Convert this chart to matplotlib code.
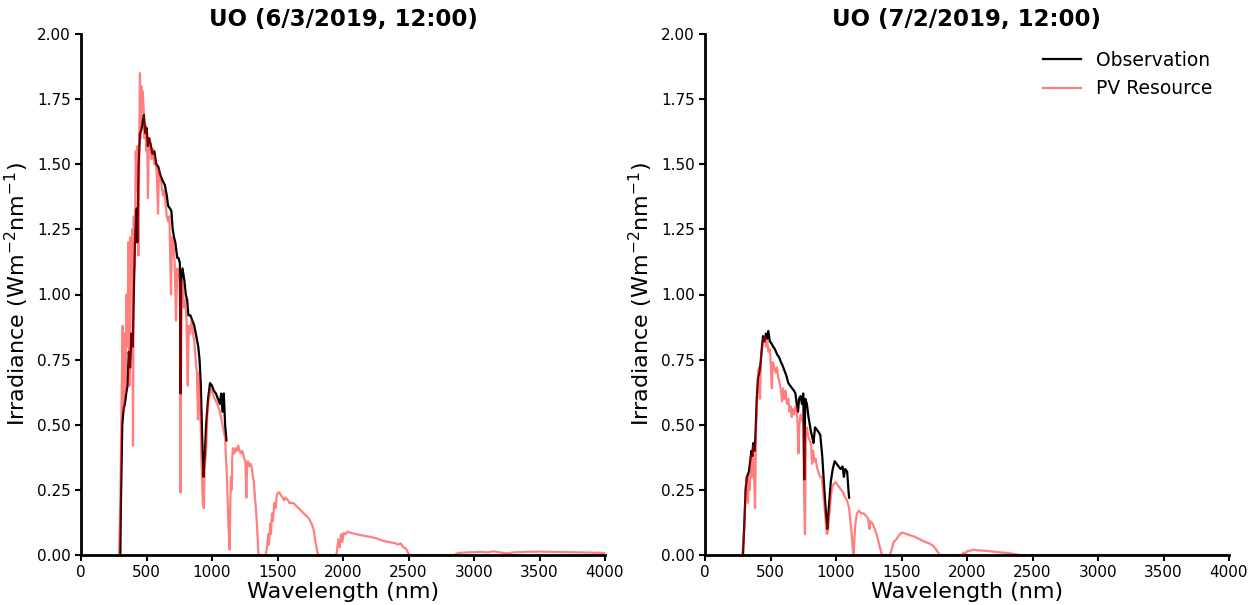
import numpy as np
import matplotlib
matplotlib.use("Agg")
import matplotlib.pyplot as plt

# left panel: 6/3/2019
obs1_wl = [300, 305, 315, 325, 335, 345, 355, 365, 375, 385, 395, 405, 412, 420, 425, 430,
           440, 450, 460, 470, 480, 490, 500, 510, 520, 530, 545, 560, 575, 590, 605, 620,
           640, 655, 665, 680, 690, 700, 710, 720, 735, 745, 755, 760, 765, 775, 790, 800,
           810, 820, 835, 850, 865, 880, 895, 905, 915, 925, 935, 945, 955, 970, 985, 1000,
           1015, 1030, 1045, 1060, 1070, 1080, 1090, 1100, 1110]
obs1_val = [0.0, 0.2, 0.5, 0.56, 0.58, 0.62, 0.65, 0.78, 0.72, 0.85, 0.8, 1.05, 1.2, 1.3, 1.33, 1.2,
            1.5, 1.62, 1.63, 1.66, 1.69, 1.62, 1.64, 1.57, 1.6, 1.58, 1.54, 1.55, 1.5, 1.49, 1.46, 1.44,
            1.42, 1.38, 1.34, 1.33, 1.32, 1.25, 1.22, 1.2, 1.14, 1.14, 1.12, 0.62, 1.05, 1.1, 1.05, 1.0,
            0.98, 0.92, 0.92, 0.9, 0.88, 0.84, 0.8, 0.75, 0.65, 0.45, 0.3, 0.38, 0.5, 0.6, 0.66, 0.65,
            0.63, 0.62, 0.6, 0.58, 0.62, 0.55, 0.62, 0.5, 0.44]

pv1_wl = [290, 300, 310, 318, 325, 332, 340, 348, 355, 362, 370, 378, 385, 392, 397, 403,
          410, 418, 425, 432, 438, 445, 450, 455, 460, 465, 470, 478, 485, 492, 500, 505,
          511, 518, 528, 540, 550, 560, 570, 580, 588, 595, 605, 615, 625, 635, 645, 655,
          665, 675, 687, 695, 705, 715, 725, 735, 745, 755, 760, 766, 775, 785, 795, 805,
          815, 822, 832, 845, 855, 865, 875, 885, 893, 900, 910, 920, 930, 938, 945, 955,
          965, 975, 990, 1005, 1020, 1040, 1060, 1080, 1100, 1114, 1125, 1135, 1140, 1145, 1150, 1155,
          1160, 1170, 1180, 1190, 1200, 1210, 1220, 1230, 1237, 1245, 1255, 1262, 1268, 1275, 1285, 1295,
          1305, 1312, 1320, 1328, 1335, 1345, 1355, 1410, 1420, 1430, 1435, 1445, 1450, 1458, 1465, 1475,
          1485, 1495, 1505, 1515, 1525, 1540, 1550, 1560, 1580, 1590, 1600, 1620, 1640, 1660, 1680, 1700,
          1720, 1740, 1760, 1775, 1790, 1805, 1815, 1950, 1965, 1975, 1985, 1995, 2005, 2020, 2035, 2060,
          2100, 2150, 2200, 2250, 2300, 2350, 2400, 2420, 2440, 2460, 2480, 2495, 2510, 2850, 2880, 2950,
          3050, 3100, 3150, 3200, 3250, 3300, 3400, 3500, 3600, 3700, 3800, 3900, 4000]
pv1_val = [0.0, 0.2, 0.6, 0.88, 0.55, 0.85, 0.62, 1.0, 0.8, 1.2, 0.65, 1.22, 1.15, 1.25, 0.42, 1.3,
           1.1, 1.55, 1.4, 1.57, 1.15, 1.6, 1.85, 1.6, 1.8, 1.7, 1.78, 1.72, 1.6, 1.65, 1.55, 1.62,
           1.37, 1.6, 1.58, 1.52, 1.56, 1.5, 1.52, 1.45, 1.31, 1.48, 1.44, 1.42, 1.38, 1.4, 1.35, 1.3,
           1.28, 1.3, 1.0, 1.22, 1.2, 1.12, 0.9, 1.1, 1.08, 1.05, 0.24, 1.0, 1.05, 0.95, 0.98, 0.9,
           0.65, 0.88, 0.85, 0.9, 0.85, 0.82, 0.75, 0.7, 0.52, 0.7, 0.58, 0.35, 0.2, 0.18, 0.35, 0.4,
           0.55, 0.6, 0.64, 0.62, 0.6, 0.58, 0.55, 0.5, 0.45, 0.3, 0.12, 0.02, 0.2, 0.3, 0.25, 0.38,
           0.41, 0.39, 0.41, 0.4, 0.42, 0.4, 0.39, 0.4, 0.39, 0.37, 0.36, 0.22, 0.35, 0.36, 0.34, 0.35,
           0.33, 0.3, 0.28, 0.22, 0.18, 0.1, 0.0, 0.0, 0.03, 0.08, 0.04, 0.12, 0.08, 0.16, 0.13, 0.2,
           0.18, 0.23, 0.24, 0.24, 0.23, 0.22, 0.21, 0.22, 0.21, 0.2, 0.2, 0.2, 0.19, 0.18, 0.17, 0.16,
           0.15, 0.14, 0.12, 0.1, 0.05, 0.01, 0.0, 0.0, 0.06, 0.03, 0.08, 0.05, 0.085, 0.08, 0.09, 0.085,
           0.08, 0.075, 0.07, 0.065, 0.055, 0.05, 0.045, 0.04, 0.045, 0.03, 0.025, 0.01, 0.0, 0.0, 0.008, 0.01,
           0.012, 0.01, 0.014, 0.01, 0.006, 0.01, 0.012, 0.013, 0.012, 0.011, 0.01, 0.009, 0.008]

# right panel: 7/2/2019
obs2_wl = [290, 300, 310, 320, 335, 345, 355, 362, 370, 380, 388, 395, 405, 415, 425, 435,
           443, 455, 465, 475, 483, 495, 510, 520, 534, 550, 565, 580, 590, 605, 620, 636,
           650, 665, 680, 690, 700, 710, 718, 730, 740, 750, 758, 765, 778, 790, 800, 810,
           820, 828, 840, 855, 870, 880, 895, 905, 915, 925, 934, 945, 960, 975, 990, 1005,
           1020, 1035, 1050, 1060, 1070, 1085, 1095, 1100]
obs2_val = [0.0, 0.12, 0.25, 0.3, 0.32, 0.36, 0.4, 0.38, 0.43, 0.4, 0.5, 0.6, 0.68, 0.7, 0.74, 0.8,
            0.84, 0.82, 0.85, 0.83, 0.86, 0.82, 0.81, 0.8, 0.79, 0.77, 0.76, 0.74, 0.73, 0.71, 0.69, 0.66,
            0.65, 0.64, 0.63, 0.62, 0.58, 0.55, 0.6, 0.61, 0.58, 0.62, 0.29, 0.6, 0.58, 0.53, 0.5, 0.47,
            0.45, 0.43, 0.49, 0.48, 0.47, 0.46, 0.38, 0.3, 0.22, 0.15, 0.1, 0.18, 0.28, 0.33, 0.36, 0.35,
            0.34, 0.33, 0.34, 0.3, 0.33, 0.32, 0.25, 0.22]

pv2_wl = [285, 300, 310, 318, 328, 335, 342, 350, 358, 365, 372, 382, 390, 398, 407, 415,
          420, 428, 438, 448, 458, 466, 475, 485, 496, 503, 510, 518, 528, 540, 548, 560,
          570, 580, 588, 596, 605, 615, 625, 636, 645, 655, 662, 672, 680, 690, 700, 707,
          713, 720, 730, 740, 750, 758, 763, 770, 778, 790, 800, 810, 818, 825, 835, 845,
          853, 865, 878, 891, 900, 910, 920, 930, 938, 948, 960, 970, 980, 995, 1010, 1025,
          1040, 1055, 1070, 1084, 1100, 1112, 1120, 1128, 1135, 1140, 1148, 1160, 1175, 1190, 1211, 1230,
          1245, 1255, 1262, 1280, 1295, 1310, 1325, 1340, 1350, 1410, 1425, 1440, 1460, 1480, 1500, 1514,
          1540, 1570, 1600, 1641, 1680, 1710, 1743, 1765, 1785, 1795, 1960, 1975, 1990, 2000, 2020, 2046,
          2080, 2120, 2160, 2200, 2250, 2300, 2350, 2400, 4000]
pv2_val = [0.0, 0.1, 0.25, 0.3, 0.2, 0.3, 0.25, 0.38, 0.3, 0.42, 0.35, 0.18, 0.5, 0.6, 0.71, 0.72,
           0.6, 0.76, 0.8, 0.83, 0.84, 0.8, 0.82, 0.78, 0.79, 0.72, 0.64, 0.74, 0.72, 0.7, 0.72, 0.68,
           0.66, 0.63, 0.59, 0.64, 0.6, 0.63, 0.58, 0.6, 0.55, 0.57, 0.53, 0.56, 0.54, 0.57, 0.57, 0.5,
           0.39, 0.5, 0.54, 0.52, 0.5, 0.2, 0.08, 0.45, 0.49, 0.45, 0.44, 0.42, 0.35, 0.4, 0.36, 0.37,
           0.34, 0.32, 0.3, 0.3, 0.25, 0.2, 0.14, 0.08, 0.09, 0.15, 0.22, 0.26, 0.27, 0.28, 0.27, 0.26,
           0.25, 0.24, 0.22, 0.21, 0.18, 0.12, 0.08, 0.02, 0.0, 0.06, 0.12, 0.16, 0.17, 0.16, 0.16, 0.15,
           0.14, 0.1, 0.13, 0.12, 0.1, 0.08, 0.05, 0.02, 0.0, 0.0, 0.02, 0.05, 0.06, 0.075, 0.085, 0.085,
           0.08, 0.075, 0.07, 0.06, 0.05, 0.045, 0.035, 0.02, 0.005, 0.0, 0.0, 0.01, 0.005, 0.015, 0.016, 0.02,
           0.018, 0.017, 0.015, 0.013, 0.01, 0.008, 0.005, 0.0, 0.0]

titles = ["UO (6/3/2019, 12:00)", "UO (7/2/2019, 12:00)"]
panels = [(obs1_wl, obs1_val, pv1_wl, pv1_val), (obs2_wl, obs2_val, pv2_wl, pv2_val)]

fig = plt.figure(figsize=(12.56, 6.05), dpi=100)
lefts = [81 / 1256, 705 / 1256]

for i, (ow, ov, pw, pv) in enumerate(panels):
    ax = fig.add_axes([lefts[i], 50 / 605, 524 / 1256, 521 / 605])
    ax.plot(ow, ov, color='black', lw=1.6, label='Observation')
    ax.plot(pw, pv, color='red', alpha=0.5, lw=1.6, label='PV Resource')
    ax.set_xlim(0, 4000)
    ax.set_ylim(0, 2.0)
    ax.set_xticks(np.arange(0, 4001, 500))
    ax.set_yticks(np.arange(0, 2.01, 0.25))
    ax.yaxis.set_major_formatter(matplotlib.ticker.FormatStrFormatter('%.2f'))
    ax.tick_params(labelsize=11, width=1.5, length=4)
    for s in ['top', 'right']:
        ax.spines[s].set_visible(False)
    for s in ['left', 'bottom']:
        ax.spines[s].set_linewidth(2)
    ax.set_title(titles[i], fontsize=16.5, fontweight='bold')
    ax.set_xlabel('Wavelength (nm)', fontsize=16, labelpad=1)
    ax.set_ylabel('Irradiance (Wm$^{-2}$nm$^{-1}$)', fontsize=16)
    if i == 1:
        ax.legend(loc='upper right', frameon=False, fontsize=13.5)

fig.savefig('out.png', dpi=100)
